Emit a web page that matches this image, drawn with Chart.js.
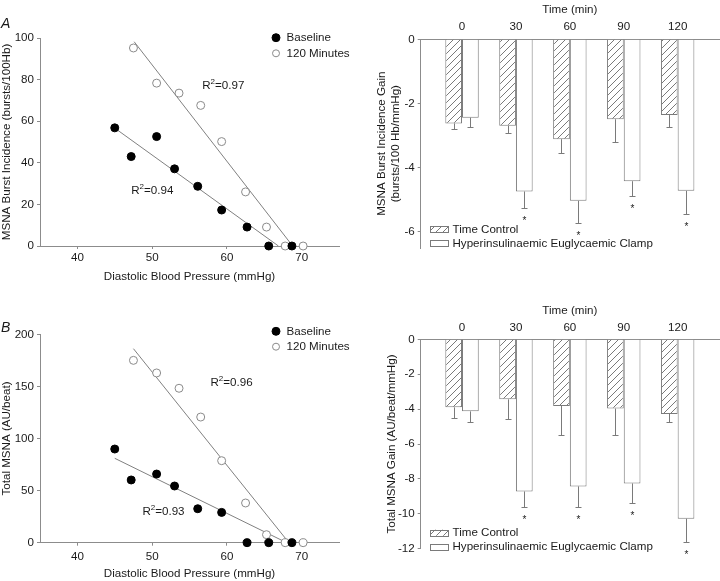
<!DOCTYPE html>
<html>
<head>
<meta charset="utf-8">
<script src="https://cdn.jsdelivr.net/npm/chart.js@4.4.0/dist/chart.umd.min.js"></script>
<style>
  html, body { margin: 0; padding: 0; background: #fff; }
  #wrap { position: relative; width: 720px; height: 581px; overflow: hidden; }
  canvas { position: absolute; }
</style>
</head>
<body>
<div id="wrap">
  <canvas id="cA" width="360" height="290" style="left:0;top:0"></canvas>
  <canvas id="cB" width="360" height="291" style="left:0;top:290px"></canvas>
  <canvas id="cC" width="360" height="290" style="left:360px;top:0"></canvas>
  <canvas id="cD" width="360" height="291" style="left:360px;top:290px"></canvas>
</div>
<script>
// scatter panels: MSNA vs diastolic blood pressure
const dbpTicks = [40, 50, 60, 70];
const dbpBase = [45.0, 47.2, 50.6, 53.0, 56.1, 59.3, 62.7, 65.6, 68.7];
const dbp120 = [47.5, 50.6, 53.6, 56.5, 59.3, 62.5, 65.3, 67.8, 70.2];

const burstTicks = [0, 20, 40, 60, 80, 100];
const burstBase = [56.8, 43.0, 52.6, 37.1, 28.7, 17.3, 9.1, 0, 0];
const burst120 = [95.2, 78.3, 73.5, 67.6, 50.2, 26.0, 9.1, 0, 0];
const burstFitBaseX = [45.3, 66.9], burstFitBaseY = [55.9, 0];
const burstFit120X = [47.6, 68.8], burstFit120Y = [98.2, 0];
const burstR2 = ['0.94', '0.97'];

const totalTicks = [0, 50, 100, 150, 200];
const totalBase = [89.9, 60.2, 65.9, 54.4, 32.6, 29.1, 0, 0, 0];
const total120 = [175.0, 162.9, 148.2, 120.6, 78.7, 38.1, 7.7, 0, 0];
const totalFitBaseX = [45.0, 68.0], totalFitBaseY = [81.0, 0];
const totalFit120X = [47.5, 68.3], totalFit120Y = [186.2, 0];
const totalR2 = ['0.93', '0.96'];

// bar panels: gains over time
const times = [0, 30, 60, 90, 120];
const burstGainTicks = [0, -2, -4, -6];
const burstGainTC = [-2.62, -2.69, -3.11, -2.49, -2.36];
const burstGainTCsem = [0.18, 0.24, 0.43, 0.72, 0.36];
const burstGainClamp = [-2.44, -4.74, -5.03, -4.42, -4.72];
const burstGainClampSem = [0.29, 0.51, 0.69, 0.47, 0.73];

const totalGainTicks = [0, -2, -4, -6, -8, -10, -12];
const totalGainTC = [-3.90, -3.44, -3.82, -3.97, -4.28];
const totalGainTCsem = [0.63, 1.15, 1.67, 1.50, 0.44];
const totalGainClamp = [-4.13, -8.72, -8.43, -8.26, -10.28];
const totalGainClampSem = [0.63, 0.88, 1.17, 1.14, 1.32];

const significant = [false, true, true, true, true];

const FONT = "'Liberation Sans', Arial, Helvetica, sans-serif";
const TXT = '#1a1a1a';
const AXIS = '#8c8c8c';
Chart.defaults.font.family = FONT;
Chart.defaults.font.size = 11.6;
Chart.defaults.color = TXT;

function pts(xs, ys) { return xs.map((x, i) => ({ x: x, y: ys[i] })); }
function fixTicks(arr) { return s => { s.ticks = arr.map(v => ({ value: v })); }; }

function drawR2(ctx, x, y, val) {
  ctx.textBaseline = 'middle';
  ctx.textAlign = 'left';
  ctx.font = '11.6px ' + FONT;
  ctx.fillText('R', x, y);
  let w = ctx.measureText('R').width;
  ctx.font = '8px ' + FONT;
  ctx.fillText('2', x + w, y - 4);
  w += ctx.measureText('2').width;
  ctx.font = '11.6px ' + FONT;
  ctx.fillText('=' + val, x + w, y);
}

const scatterExtras = {
  id: 'scatterExtras',
  afterDraw(chart, args, o) {
    const { ctx, scales: { x, y } } = chart;
    const ds = chart.data.datasets;
    ctx.save();
    ctx.fillStyle = TXT;
    ctx.font = 'italic 14px ' + FONT;
    ctx.textBaseline = 'alphabetic';
    ctx.fillText(o.letter, 1, o.letterY);
    o.r2.forEach(r => drawR2(ctx, x.getPixelForValue(r.x), y.getPixelForValue(r.y), r.val));
    // legend
    [0, 1].forEach(i => {
      const ly = o.legendY[i];
      ctx.beginPath();
      ctx.arc(276, ly, i === 0 ? 4 : 3.5, 0, Math.PI * 2);
      ctx.fillStyle = ds[i].backgroundColor;
      ctx.fill();
      ctx.strokeStyle = ds[i].borderColor;
      ctx.lineWidth = 1;
      ctx.stroke();
      ctx.fillStyle = TXT;
      ctx.font = '11.6px ' + FONT;
      ctx.textBaseline = 'middle';
      ctx.fillText(ds[i].label, 286.5, ly);
    });
    ctx.restore();
  }
};

function scatterChart(id, c) {
  new Chart(document.getElementById(id), {
    type: 'scatter',
    data: {
      datasets: [
        { label: 'Baseline', data: pts(dbpBase, c.base), pointRadius: 4, backgroundColor: '#000', borderColor: '#000', borderWidth: 1, clip: false },
        { label: '120 Minutes', data: pts(dbp120, c.min120), pointRadius: 4, backgroundColor: '#fff', borderColor: '#8a8a8a', borderWidth: 1, clip: false },
        { type: 'line', data: pts(c.fitBaseX, c.fitBaseY), borderColor: '#808080', borderWidth: 1, pointRadius: 0, fill: false },
        { type: 'line', data: pts(c.fit120X, c.fit120Y), borderColor: '#808080', borderWidth: 1, pointRadius: 0, fill: false }
      ]
    },
    options: {
      responsive: false, animation: false, events: [],
      layout: { padding: { top: c.padTop, right: 21, left: 0, bottom: 0 } },
      plugins: {
        legend: { display: false }, tooltip: { enabled: false },
        scatterExtras: { letter: c.letter, letterY: c.letterY, r2: c.r2, legendY: c.legendY }
      },
      scales: {
        x: {
          type: 'linear', min: 35, max: 75,
          afterBuildTicks: fixTicks(dbpTicks),
          afterFit: s => { s.height = c.xH; },
          grid: { drawOnChartArea: false, color: AXIS, tickLength: 3 },
          border: { color: AXIS },
          ticks: { padding: c.xTickPad, color: TXT },
          title: { display: true, text: 'Diastolic Blood Pressure (mmHg)', color: TXT, padding: { top: 0, bottom: c.xTitlePad } }
        },
        y: {
          min: 0, max: c.yMax,
          afterBuildTicks: fixTicks(c.yTicks),
          afterFit: s => { s.width = 40; },
          grid: { drawOnChartArea: false, color: AXIS, tickLength: 3 },
          border: { color: AXIS },
          ticks: { padding: 3, color: TXT },
          title: { display: true, text: c.yTitle, color: TXT, padding: { top: 0.3, bottom: 0 } }
        }
      }
    },
    plugins: [scatterExtras]
  });
}

const gainExtras = {
  id: 'gainExtras',
  afterDatasetsDraw(chart) {
    const { ctx, scales: { y } } = chart;
    ctx.save();
    ctx.strokeStyle = '#7a7a7a';
    ctx.lineWidth = 1;
    ctx.fillStyle = TXT;
    ctx.font = '10px ' + FONT;
    ctx.textAlign = 'center';
    ctx.textBaseline = 'alphabetic';
    chart.data.datasets.forEach((ds, di) => {
      chart.getDatasetMeta(di).data.forEach((bar, i) => {
        const yEnd = Math.round(y.getPixelForValue(ds.data[i] - ds.sem[i])) + 0.5;
        const x = Math.round(bar.x) + 0.5;
        ctx.beginPath();
        ctx.moveTo(x, bar.y);
        ctx.lineTo(x, yEnd);
        ctx.moveTo(x - 3, yEnd);
        ctx.lineTo(x + 3, yEnd);
        ctx.stroke();
        if (ds.sig && ds.sig[i]) ctx.fillText('*', x, yEnd + 15);
      });
    });
    ctx.restore();
  },
  afterDraw(chart, args, o) {
    const { ctx } = chart;
    const ds = chart.data.datasets;
    ctx.save();
    [0, 1].forEach(i => {
      const ly = o.legendY[i];
      ctx.fillStyle = ds[i].backgroundColor;
      ctx.fillRect(70, ly - 3, 19, 6);
      ctx.strokeStyle = '#7a7a7a';
      ctx.lineWidth = 1;
      ctx.strokeRect(70.5, Math.round(ly) - 2.5, 18, 6);
      ctx.fillStyle = TXT;
      ctx.font = '11.6px ' + FONT;
      ctx.textBaseline = 'middle';
      ctx.fillText(ds[i].label, 92.5, ly);
    });
    ctx.restore();
  }
};

function hatchFor(canvas) {
  const s = 7, t = document.createElement('canvas');
  t.width = s; t.height = s;
  const g = t.getContext('2d');
  g.fillStyle = '#fff';
  g.fillRect(0, 0, s, s);
  g.strokeStyle = '#7a7a7a';
  g.lineWidth = 1;
  g.beginPath();
  g.moveTo(-1, s + 1); g.lineTo(s + 1, -1);
  g.moveTo(-1, 1); g.lineTo(1, -1);
  g.moveTo(s - 1, s + 1); g.lineTo(s + 1, s - 1);
  g.stroke();
  return canvas.getContext('2d').createPattern(t, 'repeat');
}

function gainChart(id, c) {
  const el = document.getElementById(id);
  new Chart(el, {
    type: 'bar',
    data: {
      labels: times,
      datasets: [
        { label: 'Time Control', data: c.tc, sem: c.tcSem, backgroundColor: hatchFor(el), borderColor: '#7a7a7a', borderWidth: 1 },
        { label: 'Hyperinsulinaemic Euglycaemic Clamp', data: c.clamp, sem: c.clampSem, sig: significant, backgroundColor: '#fff', borderColor: '#7a7a7a', borderWidth: 1 }
      ]
    },
    options: {
      responsive: false, animation: false, events: [],
      categoryPercentage: 0.62, barPercentage: 1,
      layout: { padding: { top: 0, right: 1, left: 0, bottom: c.padBottom } },
      plugins: {
        legend: { display: false }, tooltip: { enabled: false },
        gainExtras: { legendY: c.legendY }
      },
      scales: {
        x: {
          type: 'linear', position: 'top', offset: false, min: -23, max: 143,
          afterBuildTicks: fixTicks(times),
          afterFit: s => { s.height = c.xH; },
          grid: { display: true, drawOnChartArea: false, drawTicks: false },
          border: { color: AXIS },
          ticks: { padding: c.xTickPad, color: TXT },
          title: { display: true, text: 'Time (min)', color: TXT, padding: { top: c.xTitlePad, bottom: 0 } }
        },
        y: {
          min: c.yMin, max: 0,
          afterBuildTicks: fixTicks(c.yTicks),
          afterFit: s => { s.width = 60.7; },
          grid: { drawOnChartArea: false, color: AXIS, tickLength: 3 },
          border: { color: AXIS },
          ticks: { padding: 3, color: TXT },
          title: { display: true, text: c.yTitle, color: TXT, padding: { top: c.yTitlePad, bottom: 0 } }
        }
      }
    },
    plugins: [gainExtras]
  });
}

scatterChart('cA', {
  base: burstBase, min120: burst120,
  fitBaseX: burstFitBaseX, fitBaseY: burstFitBaseY, fit120X: burstFit120X, fit120Y: burstFit120Y,
  yMax: 100, yTicks: burstTicks, yTitle: 'MSNA Burst Incidence (bursts/100Hb)',
  padTop: 38, xH: 44, xTickPad: 2, xTitlePad: 6.3,
  letter: 'A', letterY: 28, legendY: [37.7, 53.3],
  r2: [{ x: 47.2, y: 26.3, val: burstR2[0] }, { x: 56.7, y: 77.2, val: burstR2[1] }]
});

scatterChart('cB', {
  base: totalBase, min120: total120,
  fitBaseX: totalFitBaseX, fitBaseY: totalFitBaseY, fit120X: totalFit120X, fit120Y: totalFit120Y,
  yMax: 200, yTicks: totalTicks, yTitle: 'Total MSNA (AU/beat)',
  padTop: 44.3, xH: 38.3, xTickPad: 4, xTitlePad: 0,
  letter: 'B', letterY: 42, legendY: [41.3, 56.7],
  r2: [{ x: 48.7, y: 29.2, val: totalR2[0] }, { x: 57.8, y: 153, val: totalR2[1] }]
});

gainChart('cC', {
  tc: burstGainTC, tcSem: burstGainTCsem, clamp: burstGainClamp, clampSem: burstGainClampSem,
  yMin: -6.5, yTicks: burstGainTicks,
  yTitle: ['MSNA Burst Incidence Gain', '(bursts/100 Hb/mmHg)'], yTitlePad: 15,
  padBottom: 42, xH: 39.3, xTickPad: 5.3, xTitlePad: 3,
  legendY: [229.3, 243.3]
});

gainChart('cD', {
  tc: totalGainTC, tcSem: totalGainTCsem, clamp: totalGainClamp, clampSem: totalGainClampSem,
  yMin: -12, yTicks: totalGainTicks,
  yTitle: 'Total MSNA Gain (AU/beat/mmHg)', yTitlePad: 25,
  padBottom: 32.3, xH: 49.3, xTickPad: 5, xTitlePad: 13.7,
  legendY: [242.7, 256.7]
});
</script>
</body>
</html>
